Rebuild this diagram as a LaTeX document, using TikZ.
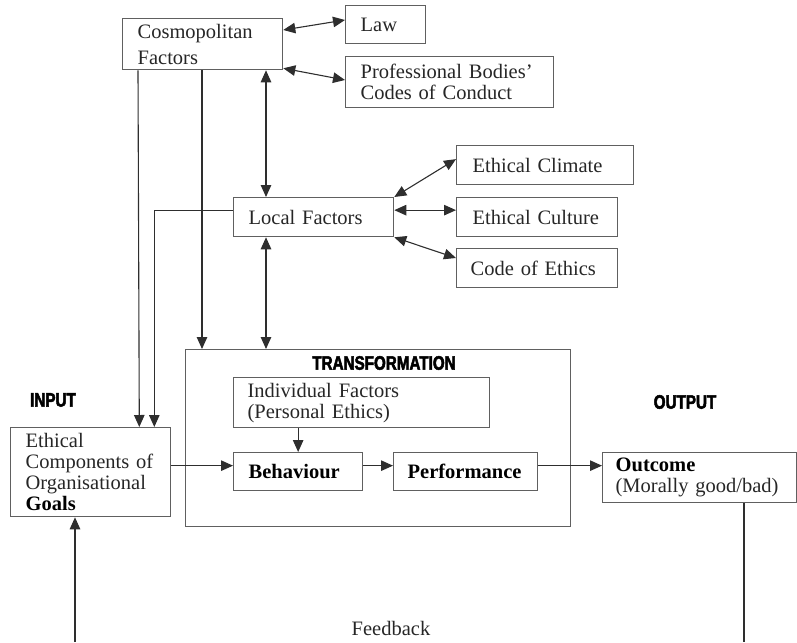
\documentclass[tikz,border=0pt]{standalone}
\usepackage{fontspec}
\setmainfont{Liberation Serif}
\newfontfamily\headfont[FakeStretch=0.78,BoldFeatures={FakeBold=2.5}]{Liberation Sans}
\usetikzlibrary{positioning,arrows.meta,calc}
\definecolor{LineGray}{HTML}{2E2E2E}
\definecolor{BoxGray}{HTML}{606060}
\definecolor{TextGray}{HTML}{262626}
\newcommand{\boxfont}{\fontsize{20.5}{21}\selectfont}
\newcommand{\headsize}{\headfont\bfseries\fontsize{19.5}{19.5}\selectfont}

\begin{document}
\begin{tikzpicture}[
  x=1pt, y=-1pt,
  box/.style={draw=BoxGray, line width=1.3pt, inner sep=0pt, anchor=north west, align=left, text=TextGray, font=\boxfont},
  boldbox/.style={box, font=\boxfont\bfseries, text=black},
  head/.style={font=\headsize, text=black},
  arrow/.style={-{Triangle[length=12pt,width=10.5pt]}, line width=1.1pt, LineGray},
  twoway/.style={{Triangle[length=12pt,width=10.5pt]}-{Triangle[length=12pt,width=10.5pt]}, line width=1.1pt, LineGray}
]
\useasboundingbox (0,0) rectangle (797,642);
\node[box, minimum width=160pt, minimum height=51pt, text width=130pt, font=\fontsize{20.5}{26}\selectfont] (cosmo) at (122,18) {Cosmopolitan\\Factors};
\node[box, minimum width=80pt, minimum height=38pt, text width=50pt] (law) at (345,5) {Law};
\node[box, minimum width=208pt, minimum height=51pt, text width=178pt] (prof) at (345,56) {Professional Bodies'\\Codes of Conduct};
\node[box, minimum width=177pt, minimum height=39pt, text width=145pt] (climate) at (456,145) {Ethical Climate};
\node[box, minimum width=160pt, minimum height=39pt, text width=130pt] (local) at (233,197) {Local Factors};
\node[box, minimum width=161pt, minimum height=39pt, text width=129pt] (culture) at (456,197) {Ethical Culture};
\node[box, minimum width=161pt, minimum height=39pt, text width=133pt] (ethics) at (456,248) {Code of Ethics};
\node[box, minimum width=385pt, minimum height=177pt] (trans) at (185,349) {};
\node[head] (translabel) at (384,363) {TRANSFORMATION};
\node[box, minimum width=256pt, minimum height=50pt, text width=228pt] (indiv) at (233,377) {Individual Factors\\(Personal Ethics)};
\node[boldbox, minimum width=129pt, minimum height=38pt, text width=99pt] (behav) at (233,452) {Behaviour};
\node[boldbox, minimum width=144pt, minimum height=38pt, text width=116pt] (perf) at (393,452) {Performance};
\node[box, minimum width=160pt, minimum height=89pt, text width=130pt] (ec) at (10,427) {Ethical\\Components of\\Organisational\\\textcolor{black}{\textbf{Goals}}};
\node[box, minimum width=194pt, minimum height=50pt, text width=168pt] (outc) at (602,452) {\textcolor{black}{\textbf{Outcome}}\\(Morally good/bad)};
\node[head] (input) at (53,400) {INPUT};
\node[head] (output) at (685,402) {OUTPUT};
\node[font=\boxfont, text=TextGray] (fb) at (391,628) {Feedback};
% external factors
\draw[twoway] ([yshift=-12pt]cosmo.north east) -- ([yshift=-15pt]law.north west);
\draw[twoway] ([yshift=2pt]cosmo.south east) -- ([yshift=-24pt]prof.north west);
\draw[twoway] ([xshift=144pt]cosmo.south west) -- ([xshift=33pt]local.north west);
\draw[arrow] ([xshift=16pt]cosmo.south west) -- ([xshift=-32pt]ec.north east);
\draw[arrow] ([xshift=80pt]cosmo.south west) -- ([xshift=17pt]trans.north west);
\draw[arrow] ([yshift=7pt]local.west) -| ([xshift=-17pt]ec.north east);
\draw[twoway] ([xshift=33pt]local.south west) -- ([xshift=81pt]trans.north west);
\draw[twoway] (local.north east) -- ([yshift=6pt]climate.west);
\draw[twoway] ([yshift=7pt]local.east) -- ([yshift=7pt]culture.west);
\draw[twoway] (local.south east) -- ([yshift=-10pt]ethics.north west);
% main flow
\coordinate (row) at ([yshift=6pt]behav.west);
\draw[arrow] (ec.east |- row) -- (row);
\draw[arrow] (behav.east |- row) -- (perf.west |- row);
\draw[arrow] (perf.east |- row) -- (outc.west |- row);
\draw[arrow] (indiv.south -| behav.north) -- (behav.north);
% feedback
\coordinate (fbleft) at (75,642);
\coordinate (fbright) at (744,642);
\draw[arrow] (fbleft) -- (fbleft |- ec.south);
\draw[LineGray, line width=1.1pt] (outc.south -| fbright) -- (fbright);
\end{tikzpicture}
\end{document}
